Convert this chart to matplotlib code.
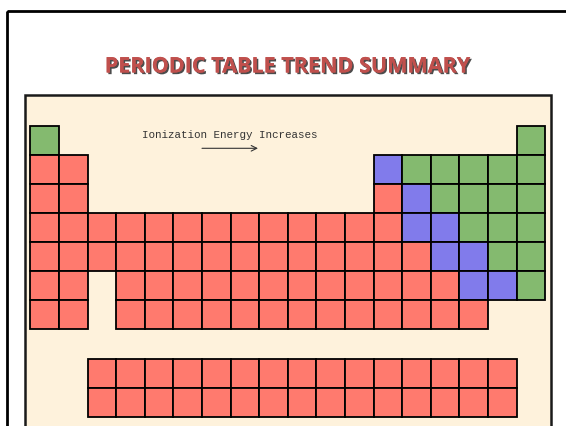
import matplotlib
matplotlib.use("Agg")
import matplotlib.pyplot as plt
import matplotlib.patheffects as pe
from matplotlib.patches import Rectangle

# ============================================================
# 数据：每行一个字符串，R=红 B=蓝 G=绿 .=空
# ============================================================
main_rows = [
    "G................G",
    "RR..........BGGGGG",
    "RR..........RBGGGG",
    "RRRRRRRRRRRRRBBGGG",
    "RRRRRRRRRRRRRRBBGG",
    "RR.RRRRRRRRRRRRBBG",
    "RR.RRRRRRRRRRRRR..",
]
fblock_rows = [
    "..RRRRRRRRRRRRRRR.",
    "..RRRRRRRRRRRRRRR.",
]
title = "PERIODIC TABLE TREND SUMMARY"
trend_label = "Ionization Energy Increases"

colors = {"R": "#FF7A6E", "B": "#817BEB", "G": "#84BA6F"}

W, H = 566, 427
fig = plt.figure(figsize=(W / 100, H / 100), dpi=100)
fig.patch.set_facecolor("white")
ax = fig.add_axes([0, 0, 1, 1])
ax.set_xlim(0, W)
ax.set_ylim(H, 0)
ax.axis("off")

# 外框（超出画面右侧和底部）
ax.add_patch(Rectangle((7, 12), 600, 500, fill=False, ec="black", lw=2.0))

# 内部米色面板
ax.add_patch(Rectangle((24.5, 96), 526, 400, fc="#FEF2DC", ec="#1a1a1a", lw=1.8))

# 标题（带阴影）
ax.text(287, 68, title, ha="center", va="center", fontsize=15.5,
        fontweight="bold", family="Open Sans", color="#C0504D",
        path_effects=[pe.withSimplePatchShadow(offset=(1.2, -1.2),
                                               shadow_rgbFace="black", alpha=0.7),
                      pe.Normal()])

cell_w, cell_h = 28.6, 29.0
x0, y0 = 30.3, 127.3
fy0 = 360.3


def draw_rows(rows, top):
    for r, row in enumerate(rows):
        for c, ch in enumerate(row):
            if ch == ".":
                continue
            ax.add_patch(Rectangle((x0 + c * cell_w, top + r * cell_h),
                                   cell_w, cell_h, fc=colors[ch],
                                   ec="black", lw=1.3))


draw_rows(main_rows, y0)
draw_rows(fblock_rows, fy0)

# 趋势说明文字和箭头
ax.text(230, 135, trend_label, ha="center", va="center", fontsize=7.8,
        family="Liberation Mono", color="#333333")
ax.annotate("", xy=(258, 149.3), xytext=(202, 149.3),
            arrowprops=dict(arrowstyle="->", lw=0.8, color="#333333",
                            shrinkA=0, shrinkB=0))

fig.savefig("out.png", dpi=100)
